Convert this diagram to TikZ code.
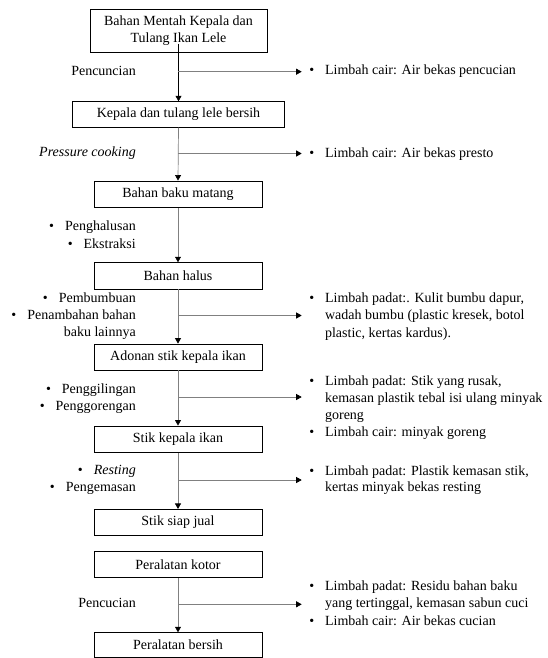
\documentclass[tikz,border=0pt]{standalone}
\usepackage{fontspec}
\setmainfont{Liberation Serif}
\usetikzlibrary{arrows.meta}
\begin{document}
\begin{tikzpicture}[x=1pt,y=-1pt,
  font=\fontsize{14}{17}\selectfont,
  box/.style={draw=black,line width=0.8pt,inner sep=0pt,minimum height=26pt,minimum width=168pt,align=center},
  lbl/.style={anchor=base east,inner sep=0pt},
  waste/.style={anchor=base west,inner xsep=7.5pt,inner ysep=0pt},
  flow/.style={draw=black!50,line width=0.7pt,-{Triangle[width=6pt,length=5.5pt,color=black]}},
  flowk/.style={draw=black,line width=0.6pt,-{Triangle[width=6pt,length=5.5pt,color=black]}},
]
\useasboundingbox (0,0) rectangle (547,658);
\newcommand{\bul}{\textbullet\hspace{11pt}}
\newcommand{\wlist}[1]{\begin{tabular}[t]{@{}l@{\hspace{10.8pt}}l@{}}#1\end{tabular}}

% boxes
\node[box,minimum width=177pt,minimum height=43pt] (b1) at (178.5,30.8) {Bahan Mentah Kepala dan\\Tulang Ikan Lele};
\node[box,minimum width=212pt,minimum height=25.6pt] (b2) at (178.5,114.5) {Kepala dan tulang lele bersih};
\node[box,minimum height=26.7pt] (b3) at (178,194.3) {Bahan baku matang};
\node[box,minimum height=26.3pt] (b4) at (178,275.8) {Bahan halus};
\node[box] (b5) at (178,357) {Adonan stik kepala ikan};
\node[box,minimum height=26.7pt] (b6) at (178,439.3) {Stik kepala ikan};
\node[box,minimum height=25.7pt] (b7) at (178,522.2) {Stik siap jual};
\node[box] (b8) at (178,564.7) {Peralatan kotor};
\node[box,minimum height=25pt] (b9) at (178,645.2) {Peralatan bersih};

% left labels
\node[lbl] (l1) at (136,75.2) {Pencuncian};
\node[lbl] (l2) at (136,156.5) {\itshape Pressure cooking};
\node[lbl] (l3a) at (136,230.9) {\bul Penghalusan};
\node[lbl] (l3b) at (136,248.2) {\bul Ekstraksi};
\node[lbl] (l4a) at (136,302.2) {\bul Pembumbuan};
\node[lbl] (l4b) at (136,319.7) {\bul Penambahan bahan};
\node[lbl] (l4c) at (136,336.7) {baku lainnya};
\node[lbl] (l5a) at (136,393.2) {\bul Penggilingan};
\node[lbl] (l5b) at (136,410.5) {\bul Penggorengan};
\node[lbl] (l6a) at (136,474.9) {\bul \textit{Resting}};
\node[lbl] (l6b) at (136,491.5) {\bul Pengemasan};
\node[lbl] (l7) at (136,607.7) {Pencucian};

% waste lists
\node[waste] (w1) at (301.7,74.9) {\wlist{\textbullet & Limbah cair: Air bekas pencucian}};
\node[waste] (w2) at (301.7,157.2) {\wlist{\textbullet & Limbah cair: Air bekas presto}};
\node[waste] (w3) at (301.7,302.2) {\wlist{\textbullet & Limbah padat:. Kulit bumbu dapur,\\[0.5pt] & wadah bumbu (plastic kresek, botol\\[0.5pt] & plastic, kertas kardus).}};
\node[waste] (w4) at (301.7,385.2) {\wlist{\textbullet & Limbah padat: Stik yang rusak,\\ & kemasan plastik tebal isi ulang minyak\\ & goreng\\ \textbullet & Limbah cair: minyak goreng}};
\node[waste] (w5) at (301.7,475.2) {\wlist{\textbullet & Limbah padat: Plastik kemasan stik,\\[-1pt] & kertas minyak bekas resting}};
\node[waste] (w6) at (301.7,590.2) {\wlist{\textbullet & Limbah padat: Residu bahan baku\\[0.5pt] & yang tertinggal, kemasan sabun cuci\\[0.5pt] \textbullet & Limbah cair: Air bekas cucian}};

% main flow
\draw[flowk] ([yshift=9pt]b1.south) -- (b2.north);
\draw[flow] (b2.south) -- (b3.north);
\draw[flow] (b3.south) -- (b4.north);
\draw[flow] (b4.south) -- (b5.north);
\draw[flow] (b5.south) -- (b6.north);
\draw[flow] (b6.south) -- (b7.north);
\draw[flow] (b8.south) -- (b9.north);

% side branches
\coordinate (j1) at (178,71.7);
\coordinate (j2) at (178,153.5);
\coordinate (j3) at (178,315.5);
\coordinate (j4) at (178,397);
\coordinate (j5) at (178,480);
\coordinate (j6) at (178,604.3);
\draw[flow] (j1) -- (j1 -| w1.west);
\draw[flow] (j2) -- (j2 -| w2.west);
\draw[flow] (j3) -- (j3 -| w3.west);
\draw[flow] (j4) -- (j4 -| w4.west);
\draw[flow] (j5) -- (j5 -| w5.west);
\draw[flow] (j6) -- (j6 -| w6.west);
\end{tikzpicture}
\end{document}
